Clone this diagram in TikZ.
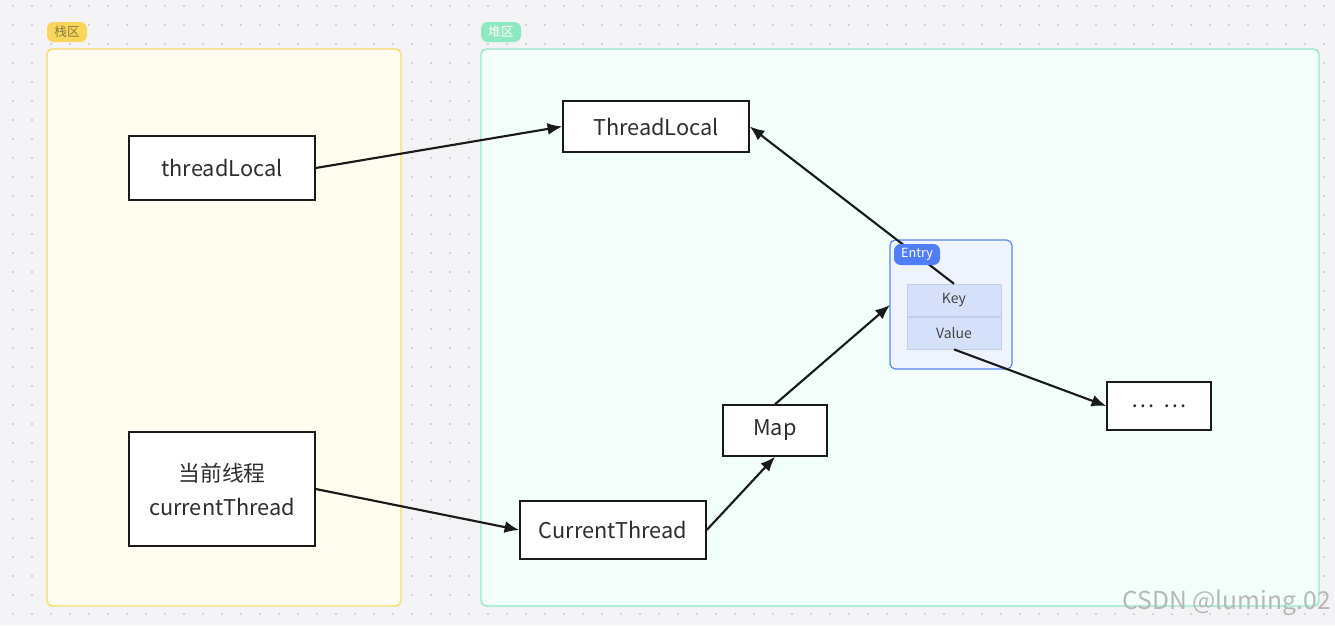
\documentclass[tikz,border=0pt]{standalone}
\usepackage{fontspec}
\setmainfont{Noto Sans CJK SC}
\usetikzlibrary{arrows.meta}
\definecolor{bgc}{HTML}{F3F3F5}
\definecolor{dotc}{HTML}{D2D2D6}
\definecolor{stackfill}{HTML}{FFFDF0}
\definecolor{stackline}{HTML}{F6DA6A}
\definecolor{stacktag}{HTML}{F7D65A}
\definecolor{stacktagtext}{HTML}{8A7A40}
\definecolor{heapfill}{HTML}{F3FFFA}
\definecolor{heapline}{HTML}{94E8C8}
\definecolor{heaptag}{HTML}{8EE8C2}
\definecolor{entryline}{HTML}{5585F5}
\definecolor{entryfill}{HTML}{EEF3FD}
\definecolor{entrytag}{HTML}{4F7EF7}
\definecolor{cellfill}{HTML}{D5E0FB}
\definecolor{cellline}{HTML}{C3CEE8}
\definecolor{celltext}{HTML}{444444}
\definecolor{ink}{HTML}{1A1A1A}
\definecolor{txt}{HTML}{2E2E2E}
\definecolor{wm}{HTML}{B8B8B8}
\tikzset{
  region/.style={draw, line width=1pt, rounded corners=4pt},
  tagbox/.style={rounded corners=5pt, font=\fontsize{9.5pt}{10pt}\selectfont, inner sep=0pt},
  objbox/.style={draw=ink, line width=1.1pt, fill=white, font=\fontsize{16.3pt}{25.5pt}\selectfont, text=txt},
  cellbox/.style={draw=cellline, line width=0.6pt, fill=cellfill, font=\fontsize{10.5pt}{12pt}\selectfont, text=celltext},
  conn/.style={draw=ink, line width=1.6pt, -{Latex[length=11pt,width=9pt]}},
}
\begin{document}
\begin{tikzpicture}[x=0.75pt,y=-0.75pt]
\useasboundingbox (0,0) rectangle (1335,625);
\fill[bgc] (0,0) rectangle (1335,625);
\foreach \i in {0,...,70}{
  \foreach \j in {0,...,32}{
    \fill[dotc] ({13+19*\i-1},{6+19*\j-1}) rectangle ++(2,2);
  }
}
% regions
\draw[region, draw=stackline, fill=stackfill] (47,49) rectangle (401,606);
\draw[region, draw=heapline, fill=heapfill] (481,49) rectangle (1319,606);
\node[tagbox, fill=stacktag, text=stacktagtext, minimum width=30pt, minimum height=15pt] (stacktag) at (67,32) {栈区};
\node[tagbox, fill=heaptag, text=white, minimum width=30pt, minimum height=15pt] (heaptag) at (501,32) {堆区};
% entry container
\draw[line width=0.9pt, draw=entryline, fill=entryfill, rounded corners=4pt] (890,240) rectangle (1012,369);
\coordinate (entryL) at (890,305);
\node[cellbox, minimum width=70.5pt, minimum height=24.5pt] (key) at (954,300.5) {Key};
\node[cellbox, minimum width=70.5pt, minimum height=24pt] (value) at (954,333) {Value};
% objects
\node[objbox, minimum width=139.5pt, minimum height=48pt] (tl) at (222,168) {threadLocal};
\node[objbox, minimum width=139.5pt, minimum height=85.5pt, align=center] (ct) at (222,489) {当前线程\\currentThread};
\node[objbox, minimum width=139.5pt, minimum height=38.25pt] (TL) at (656,126.5) {ThreadLocal};
\node[objbox, minimum width=139.5pt, minimum height=43.5pt] (CT) at (613,530) {CurrentThread};
\node[objbox, minimum width=78pt, minimum height=38.25pt] (map) at (775,430.5) {\raisebox{-2pt}{Map}};
\node[objbox, minimum width=78pt, minimum height=36pt] (dots) at (1159,406) {\raisebox{-3pt}{…\hspace{7pt}…}};
% connectors
\draw[conn] (tl.east) -- (TL.west);
\draw[conn] (ct.east) -- (CT.west);
\draw[conn] (CT.east) -- (map.south);
\draw[conn] (map.north) -- (entryL);
\draw[conn] (key.north) -- (TL.east);
\draw[conn] (value.south) -- (dots.west);
% entry tag over line
\node[tagbox, fill=entrytag, text=white, minimum width=34.5pt, minimum height=15.75pt] (entrytag) at (917,254.5) {Entry};
% watermark
\node[font=\fontsize{18.5pt}{20pt}\selectfont, text=wm, anchor=east, inner sep=0pt] (wmk) at (1331,603) {CSDN @luming.02};
\end{tikzpicture}
\end{document}
